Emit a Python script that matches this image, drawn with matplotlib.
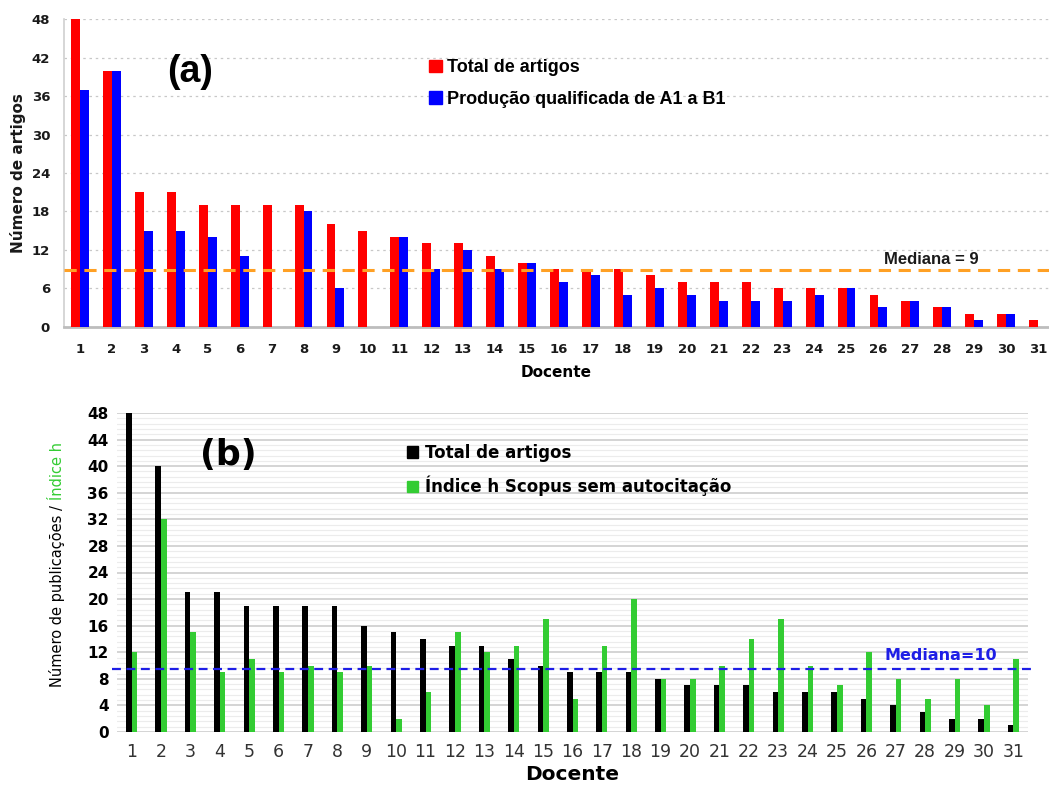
import matplotlib
matplotlib.use("Agg")
import matplotlib.pyplot as plt
import numpy as np
from matplotlib.patches import Patch
from matplotlib.ticker import MultipleLocator

# ---------------- data ----------------
docentes = list(range(1, 32))
total_artigos = [48, 40, 21, 21, 19, 19, 19, 19, 16, 15, 14, 13, 13, 11, 10, 9,
                 9, 9, 8, 7, 7, 7, 6, 6, 6, 5, 4, 3, 2, 2, 1]
producao_a1_b1 = [37, 40, 15, 15, 14, 11, 0, 18, 6, 0, 14, 9, 12, 9, 10, 7,
                  8, 5, 6, 5, 4, 4, 4, 5, 6, 3, 4, 3, 1, 2, 0]
indice_h = [12, 32, 15, 9, 11, 9, 10, 9, 10, 2, 6, 15, 12, 13, 17, 5,
            13, 20, 8, 8, 10, 14, 17, 10, 7, 12, 8, 5, 8, 4, 11]
mediana_a = 8.8
mediana_b = 9.5
label_mediana_a = "Mediana = 9"
label_mediana_b = "Mediana=10"
yticks_a = list(range(0, 49, 6))
yticks_b = list(range(0, 49, 4))

RED = "#FF0000"
BLUE = "#0000FF"
GREEN = "#33CC33"
ORANGE = "#FFA024"
MEDBLUE = "#1E1EE6"

W, H = 1049, 787
fig = plt.figure(figsize=(W / 100, H / 100), dpi=100)

x = np.array(docentes)

# ---------------- panel (a) ----------------
axa = fig.add_axes([64 / W, 1 - 326.7 / H, 1 - 64 / W, (326.7 - 19.3) / H])
bw = 0.28
axa.bar(x - bw / 2, total_artigos, width=bw, color=RED, zorder=3)
axa.bar(x + bw / 2, producao_a1_b1, width=bw, color=BLUE, zorder=3)
axa.set_xlim(0.5, 31.34)
axa.set_ylim(0, 48)
axa.set_yticks(yticks_a)
axa.set_xticks(docentes)
axa.set_xticklabels([str(d) for d in docentes])
axa.grid(axis="y", color="#c8c8c8", linestyle=(0, (2, 3)), linewidth=0.9, zorder=0)
for s in ["top", "right"]:
    axa.spines[s].set_visible(False)
axa.spines["left"].set_color("#d0d0d0")
axa.spines["left"].set_linewidth(1.2)
axa.spines["bottom"].set_color("#bdbdbd")
axa.spines["bottom"].set_linewidth(2)
axa.tick_params(axis="both", length=0, labelsize=9.5, colors="#1a1a1a")
axa.tick_params(axis="x", pad=12)
axa.tick_params(axis="y", pad=10)
for lab in axa.get_xticklabels() + axa.get_yticklabels():
    lab.set_fontweight("bold")
axa.axhline(mediana_a, color=ORANGE, linestyle=(0, (4, 2.5)), linewidth=2.2, zorder=4)
fig.text(931 / W, 1 - 259 / H, label_mediana_a, ha="center", va="center",
         fontsize=12, fontweight="bold", family="Liberation Sans", color="#1a1a1a")
fig.text(18 / W, 1 - 173 / H, "Número de artigos", rotation=90, ha="center",
         va="center", fontsize=11, fontweight="bold", color="#1a1a1a")
axa.set_xlabel("Docente", fontsize=11, fontweight="bold", labelpad=6)
fig.text(190 / W, 1 - 72 / H, "(a)", ha="center", va="center", fontsize=27,
         fontweight="bold", family="Liberation Sans")
axa.legend(handles=[Patch(color=RED, label="Total de artigos"),
                    Patch(color=BLUE, label="Produção qualificada de A1 a B1")],
           loc="upper left", bbox_to_anchor=(422 / W, 1 - 52 / H),
           bbox_transform=fig.transFigure, frameon=False,
           handlelength=0.7, handleheight=0.7, handletextpad=0.3,
           labelspacing=0.8, borderaxespad=0,
           prop={"family": "Liberation Sans", "weight": "bold", "size": 13})

# ---------------- panel (b) ----------------
axb = fig.add_axes([117 / W, 1 - 732 / H, (1028 - 117) / W, (732 - 413) / H])
bw2 = 0.19
axb.bar(x - bw2 / 2, total_artigos, width=bw2, color="black", zorder=3)
axb.bar(x + bw2 / 2, indice_h, width=bw2, color=GREEN, zorder=3)
axb.set_xlim(0.5, 31.5)
axb.set_ylim(0, 48)
axb.set_yticks(yticks_b)
axb.yaxis.set_minor_locator(MultipleLocator(0.8))
axb.set_xticks(docentes)
axb.set_xticklabels([str(d) for d in docentes])
axb.grid(axis="y", which="major", color="#d4d4d4", linewidth=1.4, zorder=0)
axb.grid(axis="y", which="minor", color="#ececec", linewidth=0.8, zorder=0)
for s in ["top", "right", "left", "bottom"]:
    axb.spines[s].set_visible(False)
axb.tick_params(axis="both", which="both", length=0)
axb.tick_params(axis="x", labelsize=12.5, colors="#333333", pad=8)
axb.tick_params(axis="y", labelsize=11, pad=6)
for lab in axb.get_yticklabels():
    lab.set_fontweight("bold")
axb.axhline(mediana_b, xmin=-0.006, xmax=1.008, color=MEDBLUE,
            linestyle=(0, (4, 2.5)), linewidth=1.6, zorder=4, clip_on=False)
fig.text(941 / W, 1 - 655 / H, label_mediana_b, ha="center", va="center",
         fontsize=11.5, fontweight="bold", color=MEDBLUE)
axb.set_xlabel("Docente", fontsize=14.5, fontweight="bold", labelpad=3)
fig.text(228 / W, 1 - 455 / H, "(b)", ha="center", va="center", fontsize=25,
         fontweight="bold")
axb.legend(handles=[Patch(color="black", label="Total de artigos"),
                    Patch(color=GREEN, label="Índice h Scopus sem autocitação")],
           loc="upper left", bbox_to_anchor=(400 / W, 1 - 437 / H),
           bbox_transform=fig.transFigure, frameon=False,
           handlelength=0.7, handleheight=0.7, handletextpad=0.4,
           labelspacing=0.85, borderaxespad=0,
           prop={"weight": "bold", "size": 12})

# multi-coloured y label for panel (b)
fig.canvas.draw()
r = fig.canvas.get_renderer()
t1 = fig.text(57 / W, 1 - 687 / H, "Número de publicações / ", rotation=90,
              ha="center", va="bottom", fontsize=10.5, color="black")
fig.canvas.draw()
bb = t1.get_window_extent(renderer=r)
fig.text(57 / W, bb.y1 / H, "Índice h", rotation=90, ha="center", va="bottom",
         fontsize=10.5, color=GREEN)

fig.savefig("out.png", dpi=100)
